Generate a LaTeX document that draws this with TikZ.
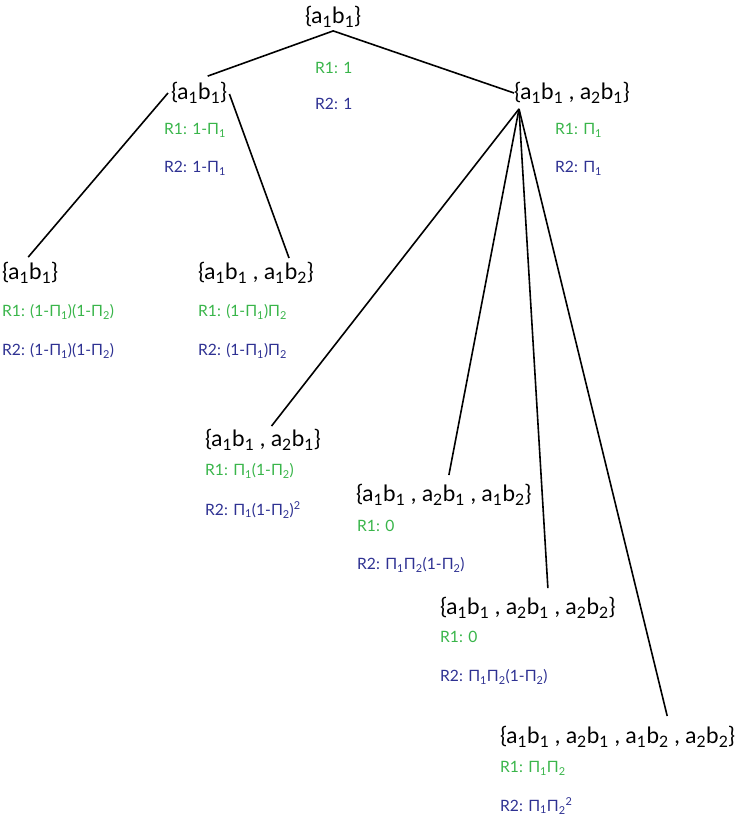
\documentclass[tikz,border=0pt]{standalone}
\usepackage{fontspec}
\setmainfont{Lato}
\definecolor{rgreen}{RGB}{57,181,74}
\definecolor{rblue}{RGB}{46,49,146}
\newcommand\sbo{\textsubscript{1}}
\newcommand\sbt{\textsubscript{2}}
\newcommand\sqr{\textsuperscript{2}}
\newcommand\PI{Π}
\begin{document}
\begin{tikzpicture}[x=1pt,y=-1pt,
  setnode/.style={anchor=west,inner sep=0pt,font=\fontsize{22.5}{26}\selectfont},
  rone/.style={anchor=west,inner sep=0pt,text=rgreen,font=\fontsize{15.6}{19}\selectfont},
  rtwo/.style={anchor=west,inner sep=0pt,text=rblue,font=\fontsize{15.6}{19}\selectfont},
  edge/.style={line width=1.6pt}]
\useasboundingbox (0,0) rectangle (735,817);
% set nodes
\node[setnode] (root) at (305,17) {\{a\sbo b\sbo\}};
\node[setnode] (L) at (171,93) {\{a\sbo b\sbo\}};
\node[setnode] (R) at (514,93) {\{a\sbo b\sbo\ , a\sbt b\sbo\}};
\node[setnode] (LL) at (2,273) {\{a\sbo b\sbo\}};
\node[setnode] (LR) at (198,273) {\{a\sbo b\sbo\ , a\sbo b\sbt\}};
\node[setnode] (F1) at (205,440) {\{a\sbo b\sbo\ , a\sbt b\sbo\}};
\node[setnode] (F2) at (356,495) {\{a\sbo b\sbo\ , a\sbt b\sbo\ , a\sbo b\sbt\}};
\node[setnode] (F3) at (440,608) {\{a\sbo b\sbo\ , a\sbt b\sbo\ , a\sbt b\sbt\}};
\node[setnode] (F4) at (500,737) {\{a\sbo b\sbo\ , a\sbt b\sbo\ , a\sbo b\sbt\ , a\sbt b\sbt\}};
% labels
\node[rone] (rootA) at (315,68) {R1: 1};
\node[rtwo] (rootB) at (315,104) {R2: 1};
\node[rone] (LA) at (164,130) {R1: 1-\PI\sbo};
\node[rtwo] (LB) at (164,168) {R2: 1-\PI\sbo};
\node[rone] (RA) at (555,130) {R1: \PI\sbo};
\node[rtwo] (RB) at (555,168) {R2: \PI\sbo};
\node[rone] (LLA) at (2,312) {R1: (1-\PI\sbo)(1-\PI\sbt)};
\node[rtwo] (LLB) at (2,351) {R2: (1-\PI\sbo)(1-\PI\sbt)};
\node[rone] (LRA) at (198,312) {R1: (1-\PI\sbo)\PI\sbt};
\node[rtwo] (LRB) at (198,351) {R2: (1-\PI\sbo)\PI\sbt};
\node[rone] (F1A) at (205,471) {R1: \PI\sbo(1-\PI\sbt)};
\node[rtwo] (F1B) at (205,510) {R2: \PI\sbo(1-\PI\sbt)\sqr};
\node[rone] (F2A) at (357,526) {R1: 0};
\node[rtwo] (F2B) at (357,565) {R2: \PI\sbo\PI\sbt(1-\PI\sbt)};
\node[rone] (F3A) at (440,637) {R1: 0};
\node[rtwo] (F3B) at (440,677) {R2: \PI\sbo\PI\sbt(1-\PI\sbt)};
\node[rone] (F4A) at (500,768) {R1: \PI\sbo\PI\sbt};
\node[rtwo] (F4B) at (500,806) {R2: \PI\sbo\PI\sbt\sqr};
% connectors
\draw[edge] ([xshift=8.5pt,yshift=6pt]L.north) -- ([yshift=-3pt]root.south) -- (R.west);
\draw[edge] ([xshift=-3pt]L.west) -- ([xshift=-2pt,yshift=5pt]LL.north);
\draw[edge] ([xshift=2pt,yshift=-1pt]L.east) -- ([xshift=33pt,yshift=4pt]LR.north);
\coordinate (fan) at ([xshift=5pt,yshift=-5pt]R.south west);
\draw[edge] (fan) -- ([xshift=8.5pt,yshift=3pt]F1.north);
\draw[edge] (fan) -- ([xshift=5pt,yshift=9pt]F2.north);
\draw[edge] (fan) -- ([xshift=20pt,yshift=9pt]F3.north);
\draw[edge] (fan) -- ([xshift=49.5pt,yshift=10pt]F4.north);
\end{tikzpicture}
\end{document}
